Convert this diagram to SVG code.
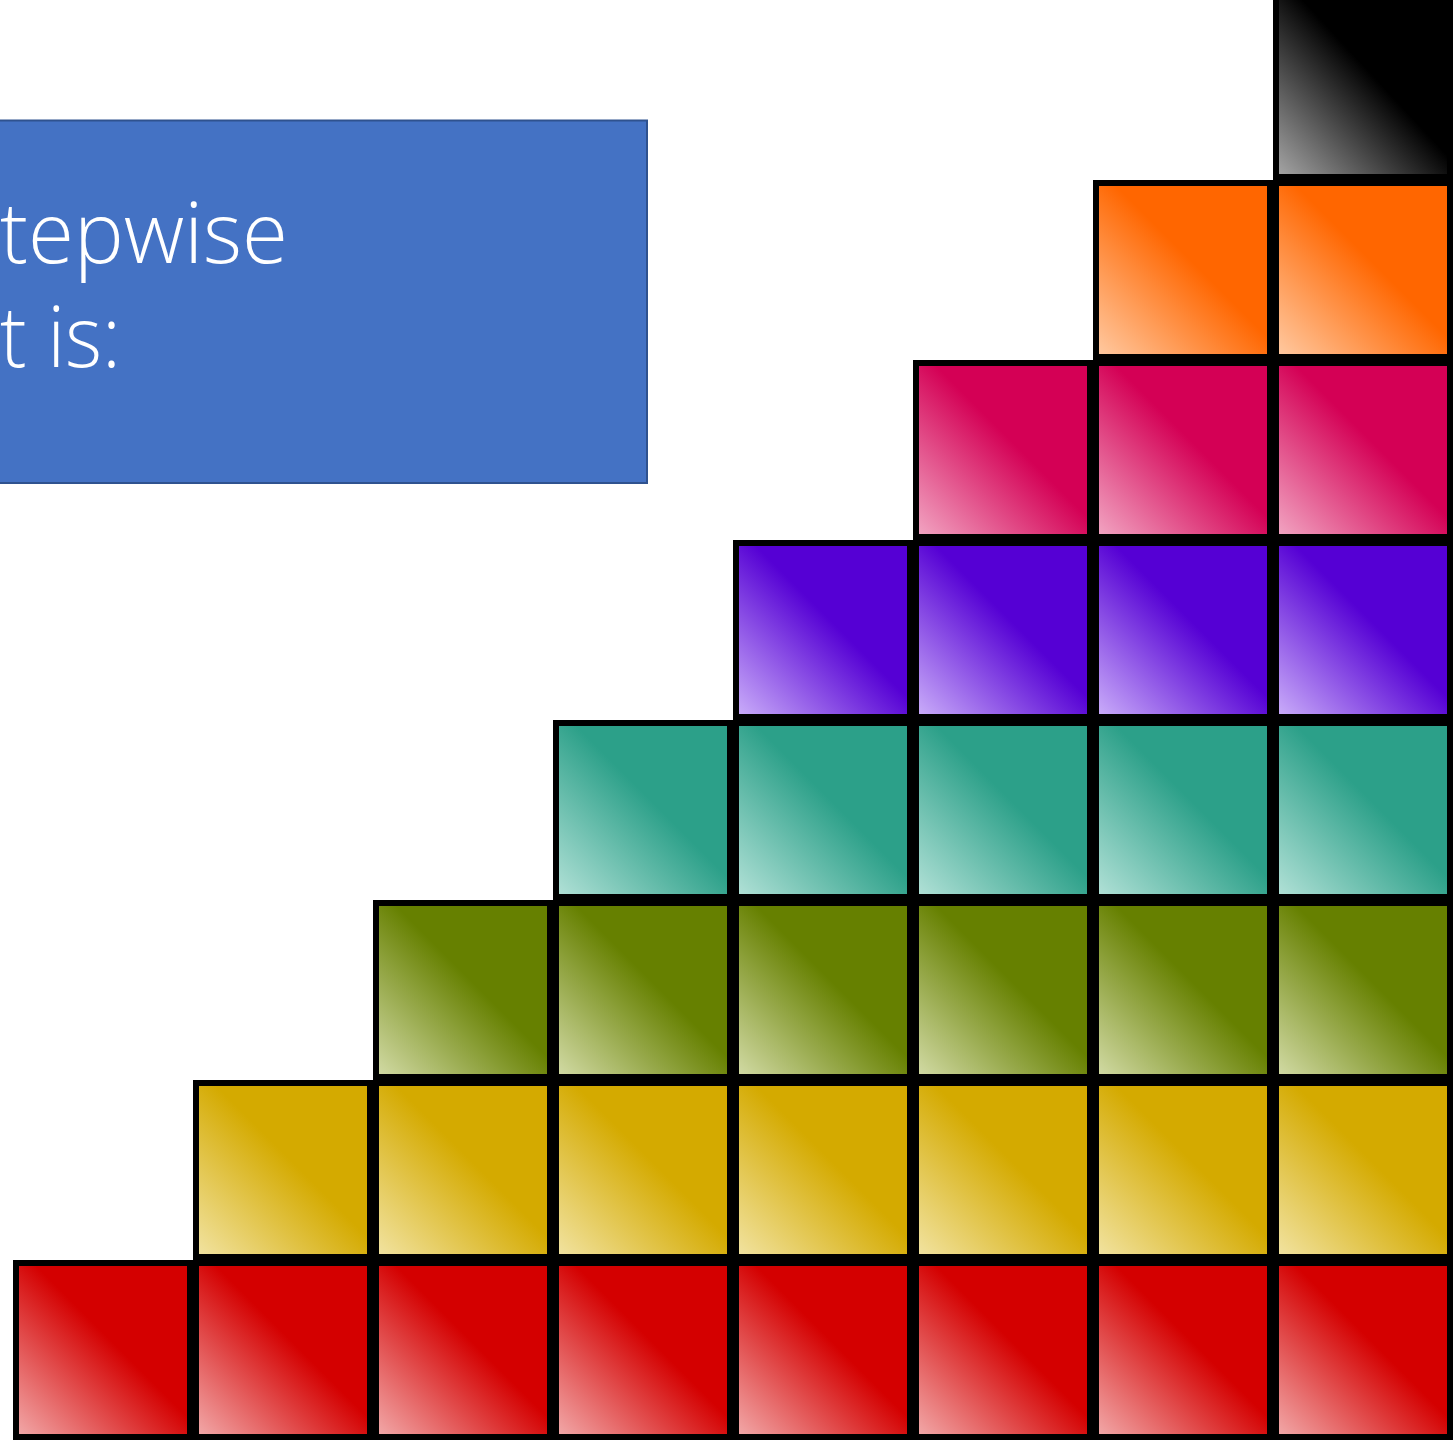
<svg xmlns="http://www.w3.org/2000/svg" width="1455" height="1440" viewBox="0 0 1455 1440">
<defs>
<linearGradient id="gK" x1="0" y1="1" x2="1" y2="0"><stop offset="0" stop-color="#a8a8a8"/><stop offset="0.55" stop-color="#000"/><stop offset="1" stop-color="#000"/></linearGradient>
<linearGradient id="gO" x1="0" y1="1" x2="1" y2="0"><stop offset="0" stop-color="#ffcba4"/><stop offset="0.55" stop-color="#ff6600"/><stop offset="1" stop-color="#ff6600"/></linearGradient>
<linearGradient id="gP" x1="0" y1="1" x2="1" y2="0"><stop offset="0" stop-color="#f2a8c4"/><stop offset="0.55" stop-color="#d40055"/><stop offset="1" stop-color="#d40055"/></linearGradient>
<linearGradient id="gV" x1="0" y1="1" x2="1" y2="0"><stop offset="0" stop-color="#ccb0fa"/><stop offset="0.55" stop-color="#5500d4"/><stop offset="1" stop-color="#5500d4"/></linearGradient>
<linearGradient id="gT" x1="0" y1="1" x2="1" y2="0"><stop offset="0" stop-color="#b4e2d8"/><stop offset="0.55" stop-color="#2ca089"/><stop offset="1" stop-color="#2ca089"/></linearGradient>
<linearGradient id="gG" x1="0" y1="1" x2="1" y2="0"><stop offset="0" stop-color="#d4dca8"/><stop offset="0.55" stop-color="#668000"/><stop offset="1" stop-color="#668000"/></linearGradient>
<linearGradient id="gY" x1="0" y1="1" x2="1" y2="0"><stop offset="0" stop-color="#f2e4a4"/><stop offset="0.55" stop-color="#d4aa00"/><stop offset="1" stop-color="#d4aa00"/></linearGradient>
<linearGradient id="gR" x1="0" y1="1" x2="1" y2="0"><stop offset="0" stop-color="#f2acac"/><stop offset="0.55" stop-color="#d40000"/><stop offset="1" stop-color="#d40000"/></linearGradient>
</defs>
<style>
.c{stroke:#000;stroke-width:6}
.k{fill:url(#gK)}.o{fill:url(#gO)}.p{fill:url(#gP)}.v{fill:url(#gV)}
.t{fill:url(#gT)}.g{fill:url(#gG)}.y{fill:url(#gY)}.r{fill:url(#gR)}
.lbl{font-family:"Open Sans","Noto Sans",sans-serif;font-weight:300;font-size:84px;fill:#fff}
</style>
<rect width="1455" height="1440" fill="#fff"/>
<g id="title">
<rect x="-5" y="120.5" width="652" height="362.5" fill="#4472c4" stroke="#2f528f" stroke-width="2"/>
<text class="lbl" x="0" y="263" textLength="288" lengthAdjust="spacingAndGlyphs">tepwise</text>
<text class="lbl" x="0" y="367" textLength="121" lengthAdjust="spacingAndGlyphs">t is:</text>
</g>
<g id="row1-black"><rect id="k7" class="c k" x="1276" y="-10" width="174" height="187"/></g>
<g id="row2-orange">
<rect id="o6" class="c o" x="1096" y="183" width="174" height="174"/>
<rect id="o7" class="c o" x="1276" y="183" width="174" height="174"/>
</g>
<g id="row3-pink">
<rect id="p5" class="c p" x="916" y="363" width="174" height="174"/>
<rect id="p6" class="c p" x="1096" y="363" width="174" height="174"/>
<rect id="p7" class="c p" x="1276" y="363" width="174" height="174"/>
</g>
<g id="row4-purple">
<rect id="v4" class="c v" x="736" y="543" width="174" height="174"/>
<rect id="v5" class="c v" x="916" y="543" width="174" height="174"/>
<rect id="v6" class="c v" x="1096" y="543" width="174" height="174"/>
<rect id="v7" class="c v" x="1276" y="543" width="174" height="174"/>
</g>
<g id="row5-teal">
<rect id="t3" class="c t" x="556" y="723" width="174" height="174"/>
<rect id="t4" class="c t" x="736" y="723" width="174" height="174"/>
<rect id="t5" class="c t" x="916" y="723" width="174" height="174"/>
<rect id="t6" class="c t" x="1096" y="723" width="174" height="174"/>
<rect id="t7" class="c t" x="1276" y="723" width="174" height="174"/>
</g>
<g id="row6-green">
<rect id="g2" class="c g" x="376" y="903" width="174" height="174"/>
<rect id="g3" class="c g" x="556" y="903" width="174" height="174"/>
<rect id="g4" class="c g" x="736" y="903" width="174" height="174"/>
<rect id="g5" class="c g" x="916" y="903" width="174" height="174"/>
<rect id="g6" class="c g" x="1096" y="903" width="174" height="174"/>
<rect id="g7" class="c g" x="1276" y="903" width="174" height="174"/>
</g>
<g id="row7-yellow">
<rect id="y1" class="c y" x="196" y="1083" width="174" height="174"/>
<rect id="y2" class="c y" x="376" y="1083" width="174" height="174"/>
<rect id="y3" class="c y" x="556" y="1083" width="174" height="174"/>
<rect id="y4" class="c y" x="736" y="1083" width="174" height="174"/>
<rect id="y5" class="c y" x="916" y="1083" width="174" height="174"/>
<rect id="y6" class="c y" x="1096" y="1083" width="174" height="174"/>
<rect id="y7" class="c y" x="1276" y="1083" width="174" height="174"/>
</g>
<g id="row8-red">
<rect id="r0" class="c r" x="16" y="1263" width="174" height="174"/>
<rect id="r1" class="c r" x="196" y="1263" width="174" height="174"/>
<rect id="r2" class="c r" x="376" y="1263" width="174" height="174"/>
<rect id="r3" class="c r" x="556" y="1263" width="174" height="174"/>
<rect id="r4" class="c r" x="736" y="1263" width="174" height="174"/>
<rect id="r5" class="c r" x="916" y="1263" width="174" height="174"/>
<rect id="r6" class="c r" x="1096" y="1263" width="174" height="174"/>
<rect id="r7" class="c r" x="1276" y="1263" width="174" height="174"/>
</g>
<g id="connectors"/>
</svg>
